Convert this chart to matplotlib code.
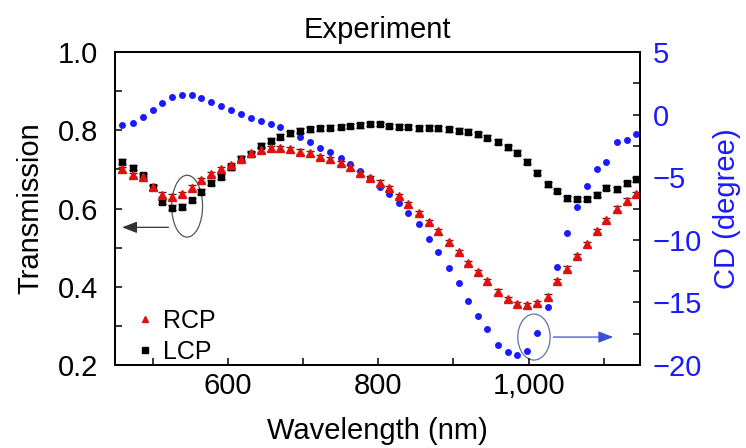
import matplotlib
matplotlib.use("Agg")
import matplotlib.pyplot as plt
from matplotlib.lines import Line2D
from matplotlib.patches import Ellipse
from matplotlib.ticker import MultipleLocator, FuncFormatter

plt.rcParams['font.family'] = ['Liberation Sans', 'DejaVu Sans']

# ---- data ----
wavelength = [460, 474, 487, 500, 513, 526, 539, 552, 565, 578, 591, 604, 618,
              631, 644, 657, 670, 683, 696, 709, 723, 736, 750, 763, 776, 789,
              802, 814, 827, 840, 854, 867, 880, 894, 907, 919, 932, 945, 959,
              972, 984, 998, 1011, 1025, 1038, 1051, 1064, 1077, 1091, 1103,
              1117, 1130, 1143]

rcp = [0.700, 0.686, 0.681, 0.654, 0.635, 0.630, 0.637, 0.653, 0.673, 0.688, 0.700, 0.711, 0.727,
       0.741, 0.750, 0.754, 0.754, 0.751, 0.745, 0.741, 0.732, 0.726, 0.716, 0.705, 0.691, 0.678,
       0.666, 0.652, 0.632, 0.611, 0.589, 0.566, 0.542, 0.514, 0.489, 0.461, 0.437, 0.414, 0.388, 0.369,
       0.356, 0.353, 0.359, 0.375, 0.415, 0.446, 0.479, 0.509, 0.543, 0.571, 0.600, 0.620, 0.637]

lcp = [0.720, 0.704, 0.686, 0.654, 0.617, 0.602, 0.605, 0.622, 0.643, 0.666, 0.681, 0.705, 0.727,
       0.739, 0.761, 0.773, 0.784, 0.792, 0.799, 0.802, 0.805, 0.807, 0.808, 0.811, 0.813, 0.816,
       0.816, 0.811, 0.809, 0.808, 0.805, 0.807, 0.805, 0.802, 0.799, 0.796, 0.790, 0.781, 0.771, 0.756,
       0.743, 0.720, 0.692, 0.662, 0.645, 0.626, 0.624, 0.624, 0.635, 0.653, 0.649, 0.664, 0.675]

cd = [-0.83, -0.70, -0.22, 0.39, 0.95, 1.38, 1.57, 1.57, 1.33, 1.00, 0.69, 0.39, 0.05,
      -0.25, -0.49, -0.73, -1.02, -1.44, -1.82, -2.19, -2.64, -2.96, -3.44, -3.97, -4.48, -5.04,
      -5.76, -6.34, -7.09, -7.89, -8.77, -9.96, -10.97, -12.28, -13.45, -14.91, -16.09, -17.10, -18.40, -18.99,
      -19.23, -18.86, -17.47, -15.34, -12.20, -9.43, -7.35, -5.68, -4.37, -3.79, -2.16, -2.05, -1.55]

err = 0.006

fig = plt.figure(figsize=(7.46, 4.48), dpi=100)
ax = fig.add_axes([0.154, 0.185, 0.704, 0.699])
ax2 = ax.twinx()
ax.set_zorder(ax2.get_zorder() + 1)
ax.patch.set_visible(False)

# CD (right axis)
ax2.plot(wavelength, cd, 'o', color='#1a1aff', ms=5.0, mec='none')

# transmission (left axis)
ax.errorbar(wavelength, lcp, yerr=err, fmt='s', color='black', ms=4.4,
            ecolor='black', elinewidth=1.0, capsize=3, capthick=1.0)
ax.errorbar(wavelength, rcp, yerr=err, fmt='^', color='#e01010', ms=5.6,
            ecolor='#6b1a10', elinewidth=1.0, capsize=3, capthick=1.0)

ax.set_xlim(450, 1148)
ax.set_ylim(0.2, 1.0)
ax2.set_ylim(-20, 5)

ax.xaxis.set_major_locator(MultipleLocator(200))
ax.xaxis.set_minor_locator(MultipleLocator(100))
ax.xaxis.set_major_formatter(FuncFormatter(lambda v, p: '{:,.0f}'.format(v)))
ax.yaxis.set_major_locator(MultipleLocator(0.2))
ax.yaxis.set_minor_locator(MultipleLocator(0.1))
ax.yaxis.set_major_formatter(FuncFormatter(lambda v, p: '{:.1f}'.format(v)))
ax2.yaxis.set_major_locator(MultipleLocator(5))
ax2.yaxis.set_minor_locator(MultipleLocator(2.5))

for a in (ax, ax2):
    for s in a.spines.values():
        s.set_linewidth(1.3)
ax.tick_params(which='both', direction='in', length=5, width=1.1,
               labelsize=21, top=False, right=False)
ax.tick_params(axis='y', pad=12)
ax.tick_params(axis='x', pad=5)
ax2.tick_params(which='both', direction='in', length=5, width=1.1,
                labelsize=21, colors='black', labelcolor='#1a1aff', pad=9)

ax.set_xlabel('Wavelength (nm)', fontsize=21, labelpad=12)
ax.set_ylabel('Transmission', fontsize=21, labelpad=10)
ax2.set_ylabel('CD (degree)', fontsize=21, color='#1a1aff', labelpad=8)
ax.set_title('Experiment', fontsize=21, pad=10)

# annotations: ellipses and arrows
ax.add_patch(Ellipse((546, 0.606), 41, 0.158, fill=False, ec='#555555', lw=0.9))
ax.annotate('', xy=(456, 0.552), xytext=(525, 0.552),
            arrowprops=dict(arrowstyle='-|>,head_length=0.9,head_width=0.35',
                            color='#333333', lw=0.9))
ax2.add_patch(Ellipse((1007, -17.76), 43, 3.67, fill=False, ec='#6470a8', lw=0.9))
ax2.annotate('', xy=(1116, -17.76), xytext=(1029, -17.76),
             arrowprops=dict(arrowstyle='-|>,head_length=0.9,head_width=0.35',
                             color='#3a4fd8', lw=0.9))

handles = [Line2D([], [], ls='none', marker='^', color='#e01010', ms=5),
           Line2D([], [], ls='none', marker='s', color='black', ms=4)]
ax.legend(handles, ['RCP', 'LCP'], loc='lower left', bbox_to_anchor=(0.01, -0.045),
          frameon=False, fontsize=18, handlelength=0.8, handletextpad=0.3,
          labelspacing=0.3, borderaxespad=0.2)

fig.savefig('out.png', dpi=100)
